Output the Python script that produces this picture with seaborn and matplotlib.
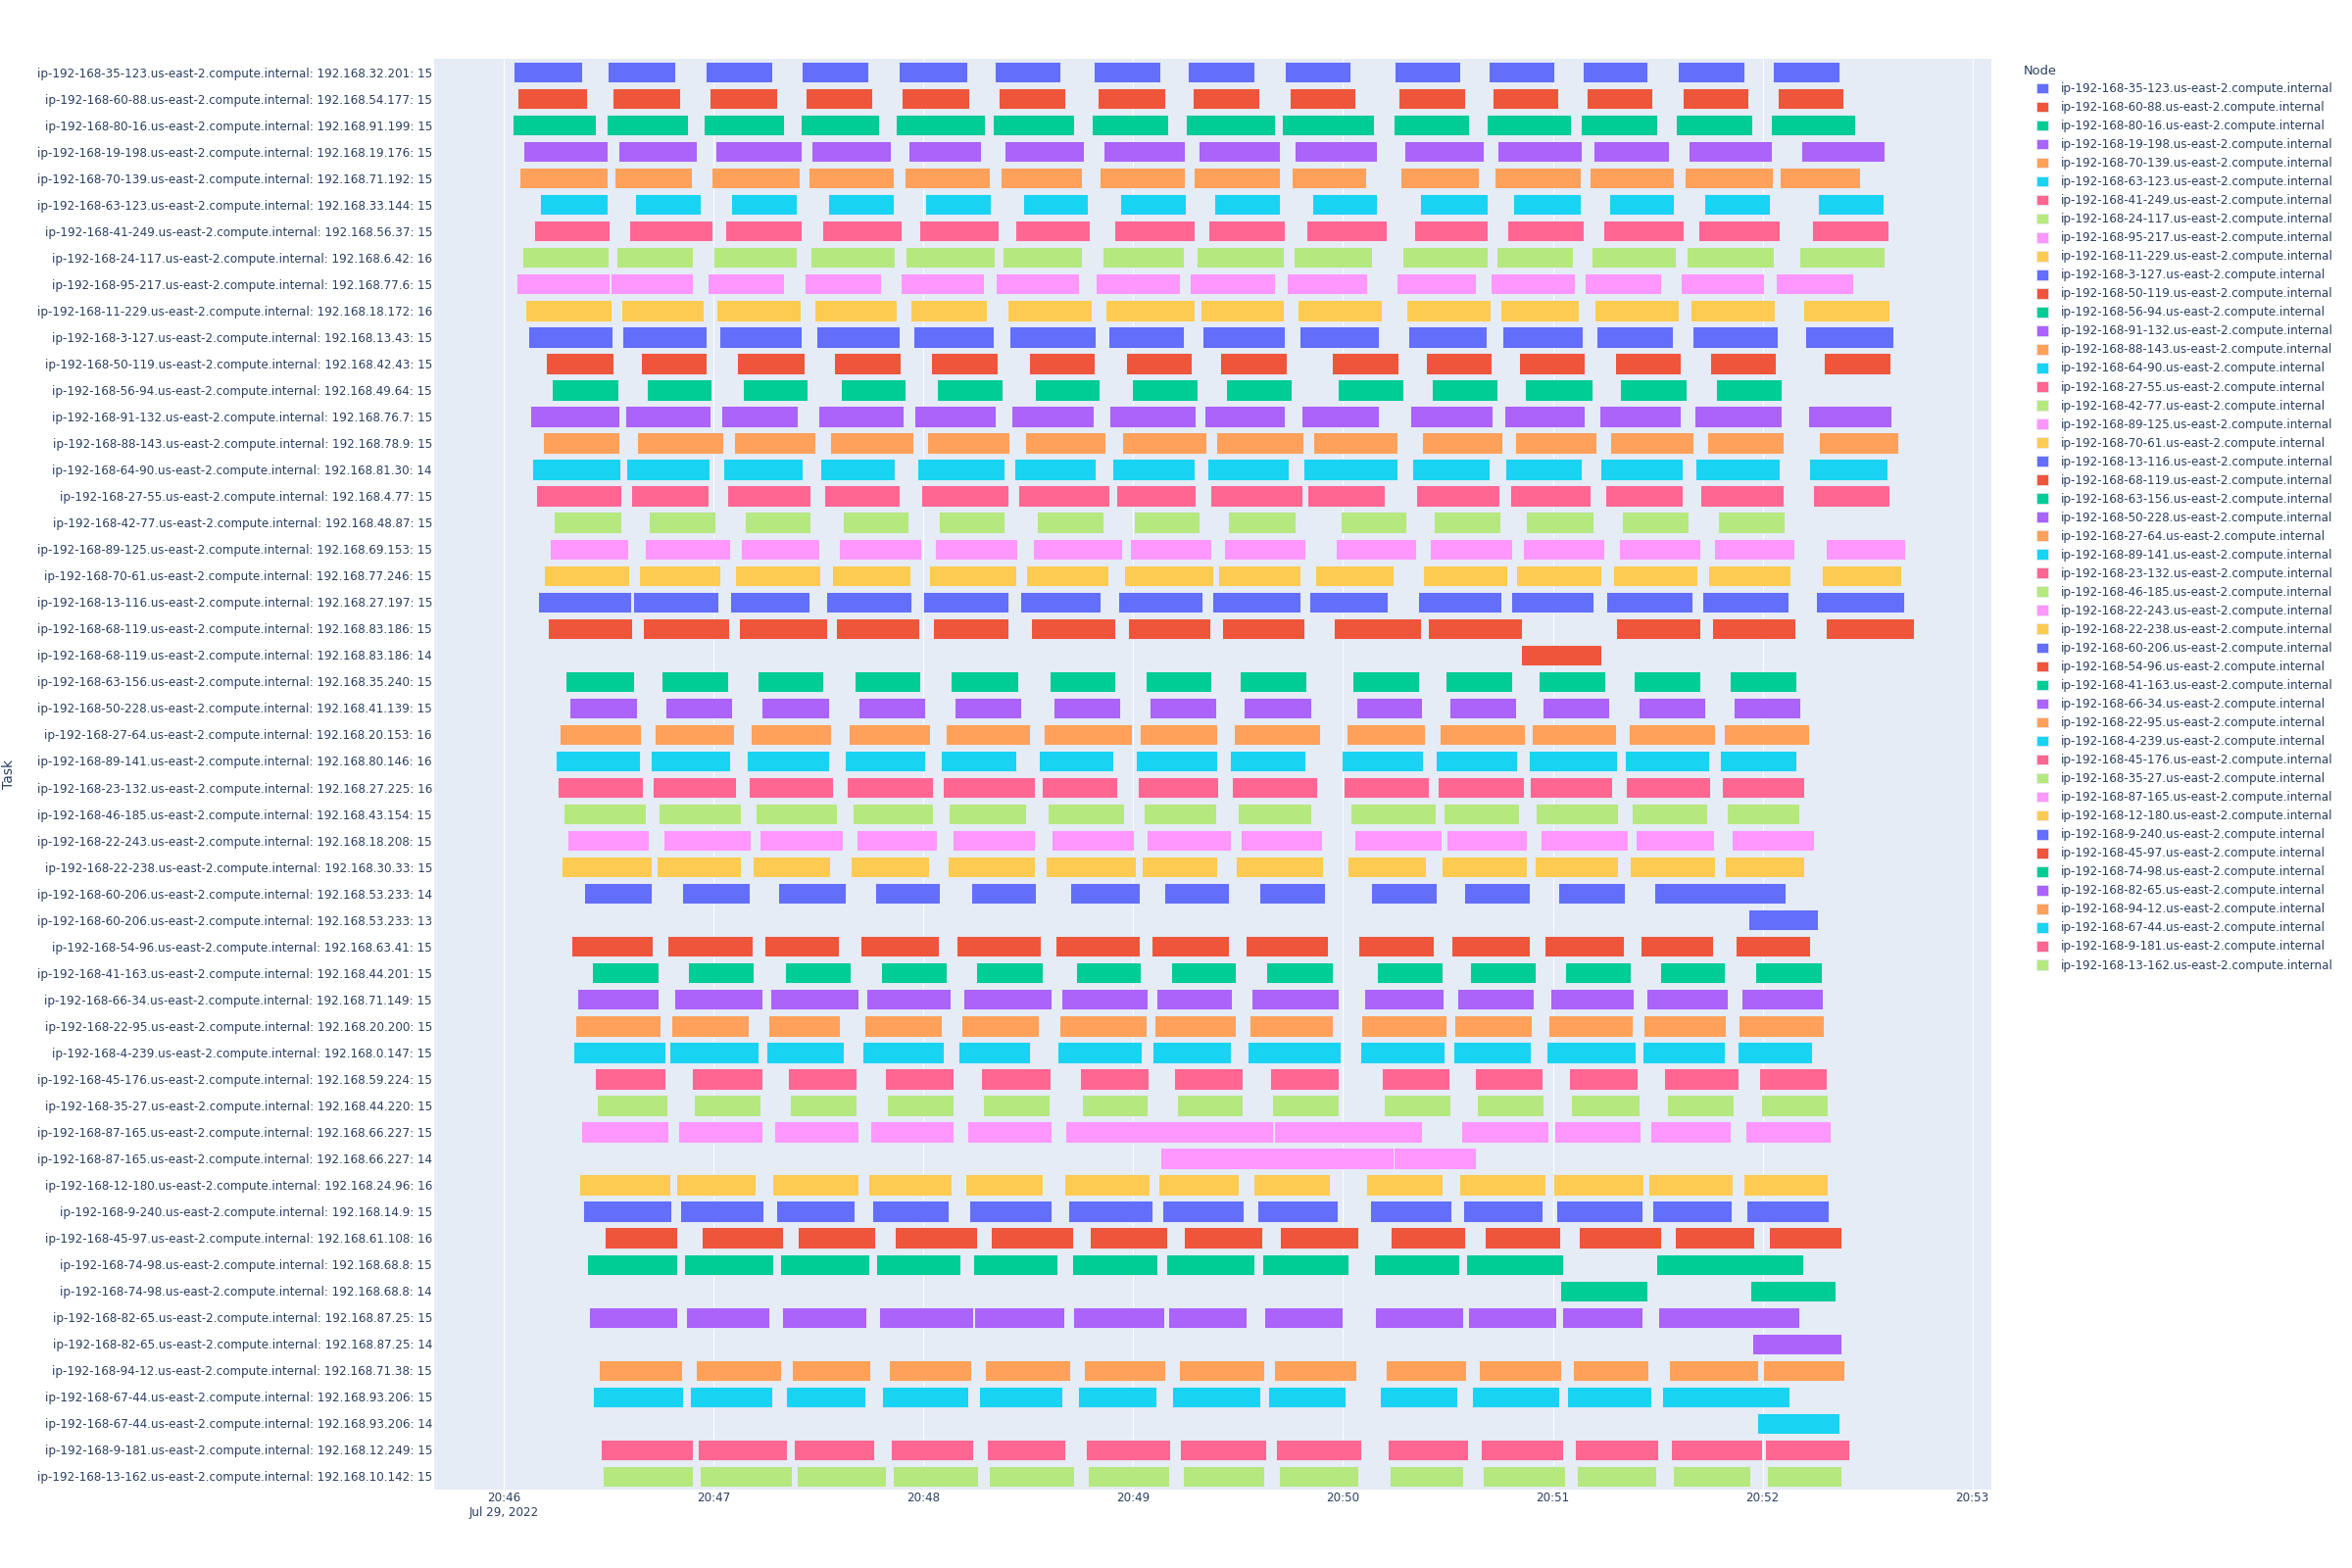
import pandas as pd
import numpy as np
import seaborn as sns
import matplotlib.pyplot as plt
import matplotlib.dates as mdates
from matplotlib.patches import Patch

# rotulos das tarefas (de cima para baixo)
task_labels = [
    'ip-192-168-35-123.us-east-2.compute.internal: 192.168.32.201: 15',
    'ip-192-168-60-88.us-east-2.compute.internal: 192.168.54.177: 15',
    'ip-192-168-80-16.us-east-2.compute.internal: 192.168.91.199: 15',
    'ip-192-168-19-198.us-east-2.compute.internal: 192.168.19.176: 15',
    'ip-192-168-70-139.us-east-2.compute.internal: 192.168.71.192: 15',
    'ip-192-168-63-123.us-east-2.compute.internal: 192.168.33.144: 15',
    'ip-192-168-41-249.us-east-2.compute.internal: 192.168.56.37: 15',
    'ip-192-168-24-117.us-east-2.compute.internal: 192.168.6.42: 16',
    'ip-192-168-95-217.us-east-2.compute.internal: 192.168.77.6: 15',
    'ip-192-168-11-229.us-east-2.compute.internal: 192.168.18.172: 16',
    'ip-192-168-3-127.us-east-2.compute.internal: 192.168.13.43: 15',
    'ip-192-168-50-119.us-east-2.compute.internal: 192.168.42.43: 15',
    'ip-192-168-56-94.us-east-2.compute.internal: 192.168.49.64: 15',
    'ip-192-168-91-132.us-east-2.compute.internal: 192.168.76.7: 15',
    'ip-192-168-88-143.us-east-2.compute.internal: 192.168.78.9: 15',
    'ip-192-168-64-90.us-east-2.compute.internal: 192.168.81.30: 14',
    'ip-192-168-27-55.us-east-2.compute.internal: 192.168.4.77: 15',
    'ip-192-168-42-77.us-east-2.compute.internal: 192.168.48.87: 15',
    'ip-192-168-89-125.us-east-2.compute.internal: 192.168.69.153: 15',
    'ip-192-168-70-61.us-east-2.compute.internal: 192.168.77.246: 15',
    'ip-192-168-13-116.us-east-2.compute.internal: 192.168.27.197: 15',
    'ip-192-168-68-119.us-east-2.compute.internal: 192.168.83.186: 15',
    'ip-192-168-68-119.us-east-2.compute.internal: 192.168.83.186: 14',
    'ip-192-168-63-156.us-east-2.compute.internal: 192.168.35.240: 15',
    'ip-192-168-50-228.us-east-2.compute.internal: 192.168.41.139: 15',
    'ip-192-168-27-64.us-east-2.compute.internal: 192.168.20.153: 16',
    'ip-192-168-89-141.us-east-2.compute.internal: 192.168.80.146: 16',
    'ip-192-168-23-132.us-east-2.compute.internal: 192.168.27.225: 16',
    'ip-192-168-46-185.us-east-2.compute.internal: 192.168.43.154: 15',
    'ip-192-168-22-243.us-east-2.compute.internal: 192.168.18.208: 15',
    'ip-192-168-22-238.us-east-2.compute.internal: 192.168.30.33: 15',
    'ip-192-168-60-206.us-east-2.compute.internal: 192.168.53.233: 14',
    'ip-192-168-60-206.us-east-2.compute.internal: 192.168.53.233: 13',
    'ip-192-168-54-96.us-east-2.compute.internal: 192.168.63.41: 15',
    'ip-192-168-41-163.us-east-2.compute.internal: 192.168.44.201: 15',
    'ip-192-168-66-34.us-east-2.compute.internal: 192.168.71.149: 15',
    'ip-192-168-22-95.us-east-2.compute.internal: 192.168.20.200: 15',
    'ip-192-168-4-239.us-east-2.compute.internal: 192.168.0.147: 15',
    'ip-192-168-45-176.us-east-2.compute.internal: 192.168.59.224: 15',
    'ip-192-168-35-27.us-east-2.compute.internal: 192.168.44.220: 15',
    'ip-192-168-87-165.us-east-2.compute.internal: 192.168.66.227: 15',
    'ip-192-168-87-165.us-east-2.compute.internal: 192.168.66.227: 14',
    'ip-192-168-12-180.us-east-2.compute.internal: 192.168.24.96: 16',
    'ip-192-168-9-240.us-east-2.compute.internal: 192.168.14.9: 15',
    'ip-192-168-45-97.us-east-2.compute.internal: 192.168.61.108: 16',
    'ip-192-168-74-98.us-east-2.compute.internal: 192.168.68.8: 15',
    'ip-192-168-74-98.us-east-2.compute.internal: 192.168.68.8: 14',
    'ip-192-168-82-65.us-east-2.compute.internal: 192.168.87.25: 15',
    'ip-192-168-82-65.us-east-2.compute.internal: 192.168.87.25: 14',
    'ip-192-168-94-12.us-east-2.compute.internal: 192.168.71.38: 15',
    'ip-192-168-67-44.us-east-2.compute.internal: 192.168.93.206: 15',
    'ip-192-168-67-44.us-east-2.compute.internal: 192.168.93.206: 14',
    'ip-192-168-9-181.us-east-2.compute.internal: 192.168.12.249: 15',
    'ip-192-168-13-162.us-east-2.compute.internal: 192.168.10.142: 15',
]

# (inicio, fim) de cada barra, em segundos depois de 20:46:00
row_bars = [
    [(2.9, 22.4), (29.8, 48.9), (57.7, 76.7), (85.3, 104.2), (112.8, 132.5), (140.3, 159.2), (168.6, 187.7), (195.6, 214.6), (223.3, 242.1), (254.8, 273.5), (281.6, 300.5), (308.5, 327.1), (335.8, 354.8), (363.0, 381.9)],
    [(4.0, 23.7), (31.1, 50.5), (58.8, 78.1), (86.4, 105.5), (113.9, 133.2), (141.4, 160.5), (169.7, 189.1), (196.9, 216.0), (224.7, 243.5), (255.9, 274.9), (282.7, 301.5), (309.6, 328.5), (337.0, 355.9), (364.2, 383.2)],
    [(2.4, 26.2), (29.4, 52.8), (57.2, 80.2), (84.8, 107.2), (112.2, 137.5), (139.7, 163.0), (168.2, 189.9), (195.1, 220.5), (222.6, 248.8), (254.4, 276.0), (281.0, 305.3), (307.9, 329.9), (335.2, 357.1), (362.4, 386.4)],
    [(5.7, 29.7), (32.9, 55.1), (60.5, 85.2), (88.1, 110.8), (115.6, 136.4), (143.3, 165.9), (171.6, 194.9), (198.7, 221.9), (226.2, 249.6), (257.6, 280.3), (284.2, 308.3), (311.5, 333.3), (338.7, 362.6), (371.1, 394.9)],
    [(4.6, 29.7), (31.7, 53.7), (59.4, 84.5), (87.1, 111.5), (114.6, 139.0), (142.1, 165.2), (170.4, 194.9), (197.4, 222.0), (225.2, 246.7), (256.5, 278.8), (283.2, 307.9), (310.4, 334.5), (337.6, 363.0), (364.8, 387.8)],
    [(10.5, 29.7), (37.5, 56.3), (65.1, 83.8), (92.7, 111.5), (120.5, 139.4), (148.4, 166.9), (176.2, 195.1), (203.3, 222.0), (231.1, 249.8), (262.0, 281.3), (288.7, 307.9), (316.0, 334.7), (343.3, 362.1), (375.8, 394.6)],
    [(8.6, 30.3), (35.8, 59.8), (63.4, 85.1), (91.2, 113.9), (118.8, 141.4), (146.4, 167.6), (174.6, 197.6), (201.6, 223.3), (229.4, 252.5), (260.4, 281.3), (287.1, 308.7), (314.3, 337.5), (341.5, 364.8), (374.0, 395.9)],
    [(5.3, 30.0), (32.2, 54.2), (60.0, 83.9), (87.7, 111.8), (115.0, 140.3), (142.6, 165.4), (171.1, 194.5), (198.0, 223.1), (225.8, 248.4), (257.0, 281.4), (283.8, 305.7), (311.0, 335.1), (338.3, 363.1), (370.4, 394.8)],
    [(3.6, 30.3), (30.5, 54.1), (58.4, 80.2), (85.9, 107.8), (113.4, 137.2), (140.8, 164.5), (169.3, 193.3), (196.2, 220.6), (224.0, 247.0), (255.3, 277.9), (282.1, 306.4), (309.2, 330.9), (336.5, 360.3), (363.7, 385.8)],
    [(6.3, 30.8), (33.5, 57.3), (60.9, 84.9), (88.8, 112.4), (116.3, 138.2), (144.0, 168.2), (172.2, 197.7), (199.3, 223.1), (227.0, 251.2), (258.1, 282.1), (284.9, 307.3), (311.9, 335.9), (339.3, 363.4), (371.6, 396.2)],
    [(7.0, 31.0), (33.9, 57.9), (61.6, 85.1), (89.4, 113.2), (117.0, 140.0), (144.7, 169.4), (172.8, 194.5), (199.8, 223.4), (227.5, 250.3), (258.7, 281.0), (285.5, 308.6), (312.5, 334.4), (339.8, 364.3), (372.1, 397.4)],
    [(12.1, 31.4), (39.3, 58.1), (66.8, 85.9), (94.5, 113.4), (122.3, 141.1), (150.2, 169.0), (177.9, 196.7), (204.8, 223.8), (236.8, 255.8), (263.6, 282.4), (290.3, 309.2), (317.7, 336.6), (345.0, 363.8), (377.5, 396.6)],
    [(13.8, 32.9), (41.0, 59.5), (68.5, 86.9), (96.3, 115.0), (124.0, 142.5), (152.0, 170.5), (179.6, 198.3), (206.5, 225.2), (238.6, 257.3), (265.4, 284.2), (292.0, 311.4), (319.3, 338.2), (346.7, 365.5)],
    [(7.5, 33.0), (34.7, 59.1), (62.3, 84.1), (89.9, 114.2), (117.5, 140.7), (145.3, 168.8), (173.3, 197.9), (200.5, 223.3), (228.0, 250.3), (259.2, 282.8), (286.0, 309.2), (313.2, 336.5), (340.5, 365.3), (372.9, 396.7)],
    [(11.2, 33.2), (38.1, 62.7), (65.8, 89.2), (93.4, 117.0), (121.2, 144.7), (149.1, 172.1), (176.9, 200.8), (203.8, 228.6), (231.6, 255.5), (262.6, 285.7), (289.2, 312.4), (316.5, 340.2), (344.0, 366.0), (376.2, 398.7)],
    [(8.1, 33.3), (35.1, 58.8), (62.9, 85.5), (90.5, 111.7), (118.2, 143.1), (146.0, 169.3), (174.0, 197.6), (201.1, 224.5), (228.7, 255.5), (259.7, 281.8), (286.4, 308.2), (313.6, 337.0), (340.8, 364.9), (373.4, 395.6)],
    [(9.3, 33.7), (36.4, 58.6), (64.0, 87.7), (91.6, 113.2), (119.4, 144.4), (147.0, 173.2), (175.1, 197.9), (202.0, 228.4), (229.8, 251.9), (260.9, 284.8), (287.7, 310.7), (314.9, 337.0), (342.2, 365.9), (374.5, 396.2)],
    [(14.4, 33.7), (41.6, 60.4), (69.0, 87.8), (96.9, 115.7), (124.5, 143.3), (152.5, 171.5), (180.1, 199.1), (207.1, 226.5), (239.2, 258.1), (265.9, 284.9), (292.4, 311.5), (319.8, 338.8), (347.3, 366.2)],
    [(13.2, 35.7), (40.4, 64.6), (67.9, 90.2), (95.7, 119.4), (123.4, 146.8), (151.3, 176.9), (179.2, 202.2), (205.9, 229.1), (237.9, 260.8), (264.7, 288.4), (291.5, 314.8), (318.8, 342.2), (346.1, 369.1), (377.9, 400.8)],
    [(11.6, 35.8), (38.6, 62.0), (66.2, 90.6), (93.8, 116.4), (121.6, 146.7), (149.5, 172.9), (177.4, 202.9), (204.3, 227.7), (232.1, 254.5), (263.0, 287.0), (289.6, 313.9), (317.1, 341.2), (344.4, 368.0), (376.8, 399.5)],
    [(9.9, 36.5), (37.0, 61.4), (64.6, 87.4), (92.2, 116.7), (119.9, 144.2), (147.8, 170.8), (175.7, 199.7), (202.7, 227.7), (230.4, 252.8), (261.5, 285.3), (288.1, 311.5), (315.4, 339.8), (342.7, 367.5), (375.1, 400.5)],
    [(12.7, 36.7), (39.7, 64.4), (67.3, 92.6), (95.1, 118.8), (122.8, 144.3), (150.7, 174.8), (178.5, 202.0), (205.4, 229.0), (237.4, 262.4), (264.3, 291.2), (318.2, 342.2), (345.5, 369.4), (377.9, 403.2)],
    [(290.8, 313.8)],
    [(17.7, 37.2), (45.0, 64.3), (72.5, 91.3), (100.3, 119.1), (127.9, 147.0), (156.0, 174.8), (183.5, 202.3), (210.4, 229.5), (242.6, 261.8), (269.3, 288.4), (295.9, 315.0), (323.2, 342.2), (350.6, 369.5)],
    [(18.8, 38.2), (46.3, 65.4), (73.8, 92.9), (101.5, 120.6), (129.0, 148.1), (157.3, 176.2), (184.6, 203.7), (211.7, 230.8), (243.8, 262.7), (270.4, 289.4), (297.1, 316.2), (324.4, 343.5), (351.7, 370.7)],
    [(16.0, 39.2), (43.2, 65.8), (70.7, 93.6), (98.7, 121.9), (126.3, 150.4), (154.5, 179.5), (182.0, 203.9), (208.9, 233.3), (241.0, 263.4), (267.6, 292.0), (294.1, 318.0), (321.6, 346.5), (348.9, 373.2)],
    [(14.9, 39.0), (42.1, 64.7), (69.6, 92.9), (97.5, 120.5), (125.1, 146.5), (153.1, 174.4), (180.8, 204.1), (207.6, 229.1), (239.6, 262.9), (266.4, 289.8), (293.0, 318.3), (320.5, 344.7), (347.8, 369.7)],
    [(15.5, 39.9), (42.7, 66.5), (70.1, 94.1), (98.0, 122.7), (125.6, 152.0), (153.8, 175.5), (181.3, 204.4), (208.3, 232.6), (240.3, 264.5), (267.0, 291.7), (293.5, 316.9), (321.0, 345.1), (348.2, 371.9)],
    [(17.2, 40.7), (44.3, 67.8), (71.9, 95.4), (99.7, 122.8), (127.3, 149.5), (155.5, 177.4), (182.9, 203.8), (209.8, 230.8), (242.1, 266.6), (268.7, 290.3), (295.2, 318.5), (322.5, 344.0), (349.8, 370.6)],
    [(18.1, 41.6), (45.6, 70.6), (73.1, 96.9), (100.8, 124.0), (128.4, 152.0), (156.6, 180.3), (183.9, 207.9), (210.8, 234.0), (243.2, 268.3), (269.7, 292.7), (296.5, 321.4), (323.8, 346.0), (351.1, 374.6)],
    [(16.6, 42.4), (43.8, 67.8), (71.2, 93.4), (99.3, 121.6), (126.9, 152.0), (154.9, 180.8), (182.5, 204.1), (209.3, 234.3), (241.4, 263.6), (268.1, 292.6), (294.7, 318.7), (322.0, 346.4), (349.3, 371.8)],
    [(23.1, 42.4), (50.9, 70.4), (78.5, 97.7), (106.1, 124.7), (133.6, 152.3), (161.9, 182.0), (188.9, 207.3), (216.2, 234.9), (248.1, 266.8), (274.7, 293.4), (301.6, 320.5), (329.0, 366.5)],
    [(356.0, 375.7)],
    [(19.4, 42.5), (46.8, 71.1), (74.5, 95.9), (102.1, 124.4), (129.5, 153.5), (157.8, 181.8), (185.2, 207.5), (212.1, 235.8), (244.4, 266.0), (270.9, 293.5), (297.7, 320.4), (325.0, 345.9), (352.3, 373.6)],
    [(25.1, 44.2), (52.7, 71.4), (80.3, 99.1), (107.8, 126.6), (135.2, 154.2), (163.7, 182.2), (190.7, 209.4), (218.0, 237.2), (249.8, 268.6), (276.4, 295.2), (303.4, 322.4), (330.8, 349.3), (357.8, 376.8)],
    [(21.1, 44.3), (48.7, 73.9), (76.3, 101.5), (103.7, 127.9), (131.3, 156.6), (159.5, 184.1), (186.7, 208.2), (213.9, 238.9), (246.0, 268.7), (272.6, 294.5), (299.4, 323.2), (326.7, 349.9), (353.9, 377.3)],
    [(20.4, 44.9), (48.0, 70.0), (75.6, 96.2), (103.2, 125.2), (130.8, 153.1), (159.0, 183.8), (186.1, 209.4), (213.2, 237.2), (245.3, 269.6), (271.9, 294.1), (298.7, 322.7), (325.9, 349.5), (353.2, 377.6)],
    [(19.8, 46.2), (47.4, 72.9), (75.0, 97.3), (102.5, 125.8), (130.1, 150.4), (158.4, 182.4), (185.6, 207.8), (212.6, 239.4), (244.9, 269.1), (271.5, 293.8), (298.3, 323.6), (325.6, 349.3), (352.8, 374.0)],
    [(26.1, 46.2), (53.8, 73.9), (81.3, 100.9), (108.9, 128.6), (136.5, 156.4), (164.8, 184.5), (191.7, 211.2), (219.2, 238.7), (251.0, 270.4), (277.6, 297.1), (304.6, 324.2), (331.9, 353.1), (358.9, 378.3)],
    [(26.6, 46.7), (54.4, 73.5), (81.8, 100.9), (109.5, 128.6), (137.1, 156.2), (165.4, 184.2), (192.4, 211.4), (219.7, 238.9), (251.6, 270.7), (278.3, 297.4), (305.3, 324.7), (332.7, 351.8), (359.6, 378.6)],
    [(22.2, 47.0), (49.8, 73.9), (77.4, 101.4), (104.9, 128.7), (132.5, 156.6), (160.6, 220.1), (220.3, 262.6), (273.7, 298.7), (300.5, 325.1), (327.9, 350.8), (355.0, 379.5)],
    [(187.8, 254.4), (254.5, 278.1)],
    [(21.6, 47.5), (49.2, 71.9), (76.8, 101.5), (104.3, 128.1), (131.9, 154.2), (160.2, 184.7), (187.3, 210.3), (214.5, 236.1), (246.6, 268.6), (273.1, 297.9), (300.0, 325.9), (327.3, 351.4), (354.5, 378.6)],
    [(22.6, 48.0), (50.5, 74.3), (77.9, 100.3), (105.5, 127.3), (133.0, 156.7), (161.3, 185.4), (188.2, 211.5), (215.6, 238.5), (247.7, 271.0), (274.3, 297.0), (301.1, 325.5), (328.4, 351.1), (355.4, 378.9)],
    [(28.9, 49.5), (56.6, 79.8), (84.1, 106.2), (111.7, 135.4), (139.2, 162.7), (167.6, 189.6), (194.5, 217.0), (222.0, 244.3), (253.7, 274.9), (280.4, 302.0), (307.3, 331.0), (334.8, 357.7), (361.9, 382.4)],
    [(23.7, 49.5), (51.5, 77.1), (79.1, 104.4), (106.5, 130.5), (134.1, 158.4), (162.4, 186.9), (189.5, 214.6), (216.9, 241.5), (248.8, 273.2), (275.3, 302.9), (329.5, 371.6)],
    [(302.2, 327.0), (356.6, 380.8)],
    [(24.3, 49.6), (52.0, 75.9), (79.6, 103.7), (107.2, 134.3), (134.6, 160.2), (162.9, 189.0), (190.0, 212.3), (217.4, 239.9), (249.2, 274.3), (275.8, 300.9), (302.7, 325.5), (330.2, 370.4)],
    [(357.1, 382.6)],
    [(27.2, 51.0), (54.9, 79.2), (82.4, 104.7), (110.0, 133.7), (137.6, 161.9), (165.9, 189.2), (193.0, 217.4), (220.3, 243.8), (252.1, 275.1), (278.8, 302.5), (305.8, 327.4), (333.1, 358.7), (360.2, 383.5)],
    [(25.5, 51.2), (53.3, 76.7), (80.7, 103.5), (108.2, 132.9), (135.8, 159.8), (164.1, 186.7), (191.2, 216.4), (218.5, 240.7), (250.5, 272.8), (277.0, 301.8), (304.0, 328.1), (331.3, 367.6)],
    [(358.4, 381.9)],
    [(27.7, 54.0), (55.5, 80.9), (83.0, 105.8), (110.7, 134.3), (138.2, 160.5), (166.5, 190.5), (193.5, 218.1), (220.9, 245.2), (252.7, 275.7), (279.3, 302.9), (306.4, 330.2), (333.7, 359.8), (360.7, 384.9)],
    [(28.3, 54.2), (56.1, 82.5), (83.7, 109.3), (111.3, 135.7), (138.7, 163.0), (167.0, 190.3), (194.1, 217.4), (221.6, 244.5), (253.2, 274.4), (279.9, 303.4), (306.9, 329.5), (334.3, 356.6), (361.3, 382.6)],
]

start_time = pd.Timestamp('2022-07-29 20:46:00')
tick_minutes = [0, 1, 2, 3, 4, 5, 6, 7]
tick_labels = ['20:46\nJul 29, 2022', '20:47', '20:48', '20:49', '20:50', '20:51', '20:52', '20:53']

plotly_colors = ['#636EFA', '#EF553B', '#00CC96', '#AB63FA', '#FFA15A',
                 '#19D3F3', '#FF6692', '#B6E880', '#FF97FF', '#FECB52']

text_color = '#2a3f5f'
sns.set_theme(style='darkgrid', rc={'axes.facecolor': '#E5ECF6', 'grid.color': 'white',
                                    'grid.linewidth': 0.75, 'axes.edgecolor': '#E5ECF6'})
plt.rcParams['font.family'] = ['DejaVu Sans']

nodes = [lbl.split(':')[0] for lbl in task_labels]
node_order = list(dict.fromkeys(nodes))
palette = sns.color_palette(plotly_colors)
node_color = {n: palette[i % len(palette)] for i, n in enumerate(node_order)}

fig = plt.figure(figsize=(24, 16), dpi=100)
ax = fig.add_axes([443 / 2400, 80 / 1600, (2032 - 443) / 2400, 1460 / 1600])

t0 = mdates.date2num(start_time.to_pydatetime())
sec = 1 / 86400

for i, bars in enumerate(row_bars):
    lefts = [t0 + s * sec for s, e in bars]
    widths = [(e - s) * sec for s, e in bars]
    ax.barh([i] * len(bars), widths, left=lefts, height=0.79,
            color=node_color[nodes[i]], edgecolor='#E5ECF6', linewidth=0.7, zorder=3)

ax.xaxis_date()
ax.set_xlim(t0 - 19.9 * sec, t0 + 425.4 * sec)
ax.set_ylim(len(task_labels) - 0.5, -0.5)
ax.set_yticks(range(len(task_labels)))
ax.set_yticklabels(task_labels, fontsize=8.6, color=text_color)
ax.set_xticks([t0 + m * 60 * sec for m in tick_minutes])
ax.set_xticklabels(tick_labels, fontsize=8.6, color=text_color)
ax.tick_params(axis='y', length=0, pad=1.5)
ax.tick_params(axis='x', length=0, pad=1.5)
ax.grid(axis='y', visible=False)
ax.grid(axis='x', color='white', linewidth=0.75, zorder=0)
for sp in ax.spines.values():
    sp.set_visible(False)

fig.text(9 / 2400, 1 - 790 / 1600, 'Task', rotation=90, ha='center', va='center',
         fontsize=10, color=text_color)

fig.text(2065 / 2400, 1 - 72 / 1600, 'Node', ha='left', va='center', fontsize=9.4, color=text_color)
handles = [Patch(facecolor=node_color[n], edgecolor='#E5ECF6', linewidth=0.5) for n in node_order]
fig.legend(handles, node_order, loc='upper left', bbox_to_anchor=(2078 / 2400, 1 - 84 / 1600),
           frameon=False, borderpad=0, borderaxespad=0, handlelength=1.0, handleheight=1.0,
           handletextpad=1.1, labelspacing=0.505, fontsize=8.6, labelcolor=text_color)

fig.savefig('out.png', dpi=100, facecolor='white')
